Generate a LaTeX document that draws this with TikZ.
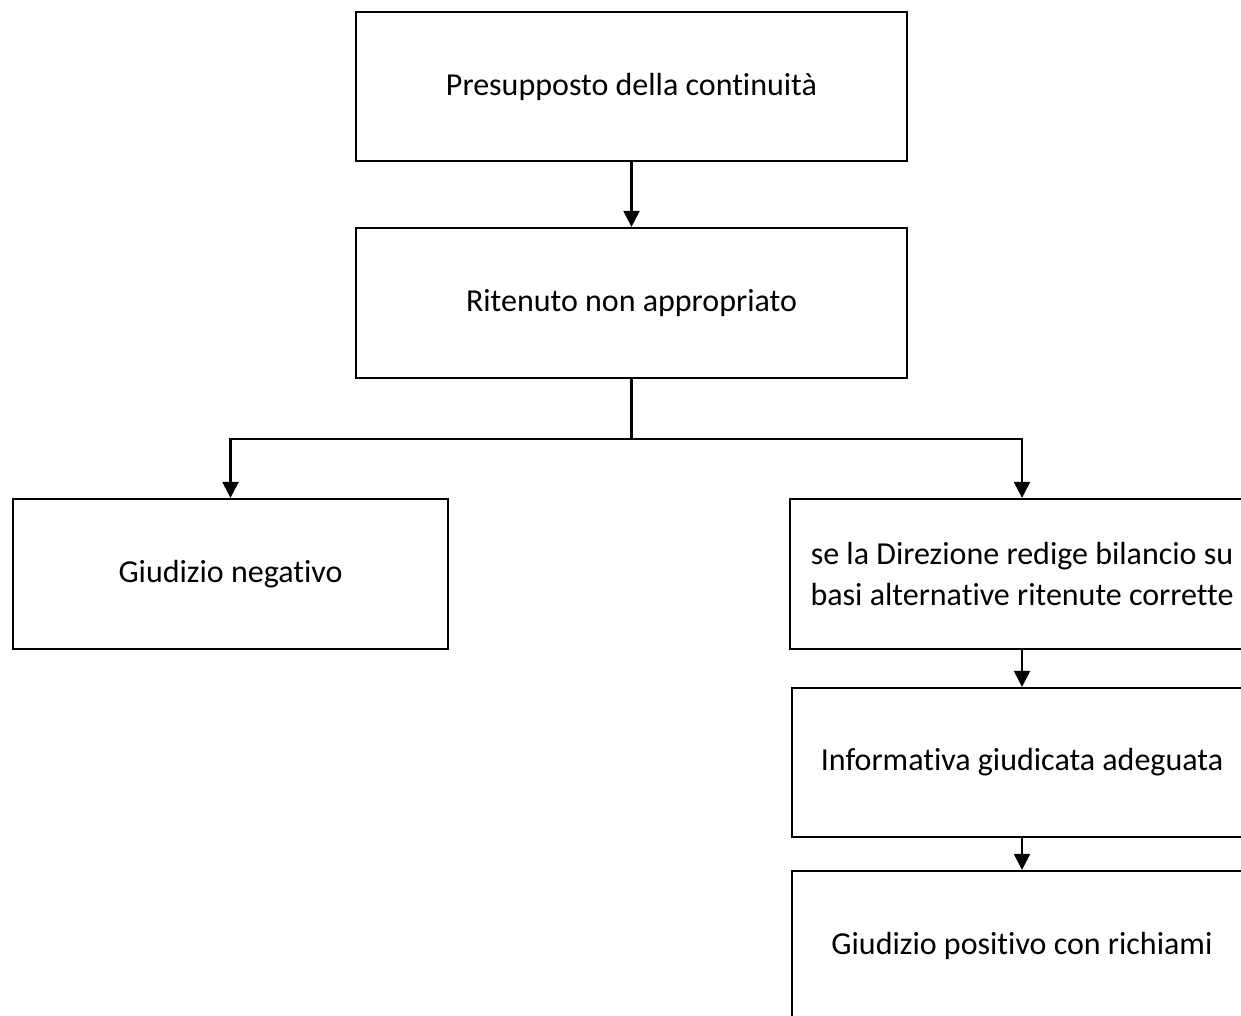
\documentclass[tikz,border=0pt]{standalone}
\usepackage{fontspec}
\setmainfont{Carlito}[RawFeature={-liga}]
\usetikzlibrary{arrows.meta}
\tikzset{
  box/.style={draw=black, line width=2.2pt, fill=white, rectangle, inner sep=0pt,
    align=center, font=\fontsize{32}{41}\selectfont},
  arr/.style={line width=2.2pt, -{Triangle[length=16pt,width=16pt]}},
  ln/.style={line width=2.2pt}
}
\begin{document}
\begin{tikzpicture}[x=1pt,y=-1pt]
\useasboundingbox (0,0) rectangle (1241,1016);
\clip (0,0) rectangle (1241,1016);
\node[box, minimum width=551pt, minimum height=149pt] (a) at (631.5,86.5) {Presupposto della continuità};
\node[box, minimum width=551pt, minimum height=150pt] (b) at (631.5,303) {Ritenuto non appropriato};
\node[box, minimum width=435pt, minimum height=150pt] (c) at (230.5,574) {Giudizio negativo};
\node[box, minimum width=464pt, minimum height=150pt] (d) at (1022,574) {se la Direzione redige bilancio su\\basi alternative ritenute corrette};
\node[box, minimum width=460pt, minimum height=149pt] (e) at (1022,762.5) {Informativa giudicata adeguata};
\node[box, minimum width=460pt, minimum height=150pt] (f) at (1022,946) {Giudizio positivo con richiami};
\draw[arr] (a.south) -- (b.north);
\draw[ln] (b.south) -- ++(0,60) coordinate (j);
\draw[arr] (j) -| (c.north);
\draw[arr] (j) -| (d.north);
\draw[arr] (d.south) -- (e.north);
\draw[arr] (e.south) -- (f.north);
\end{tikzpicture}
\end{document}
